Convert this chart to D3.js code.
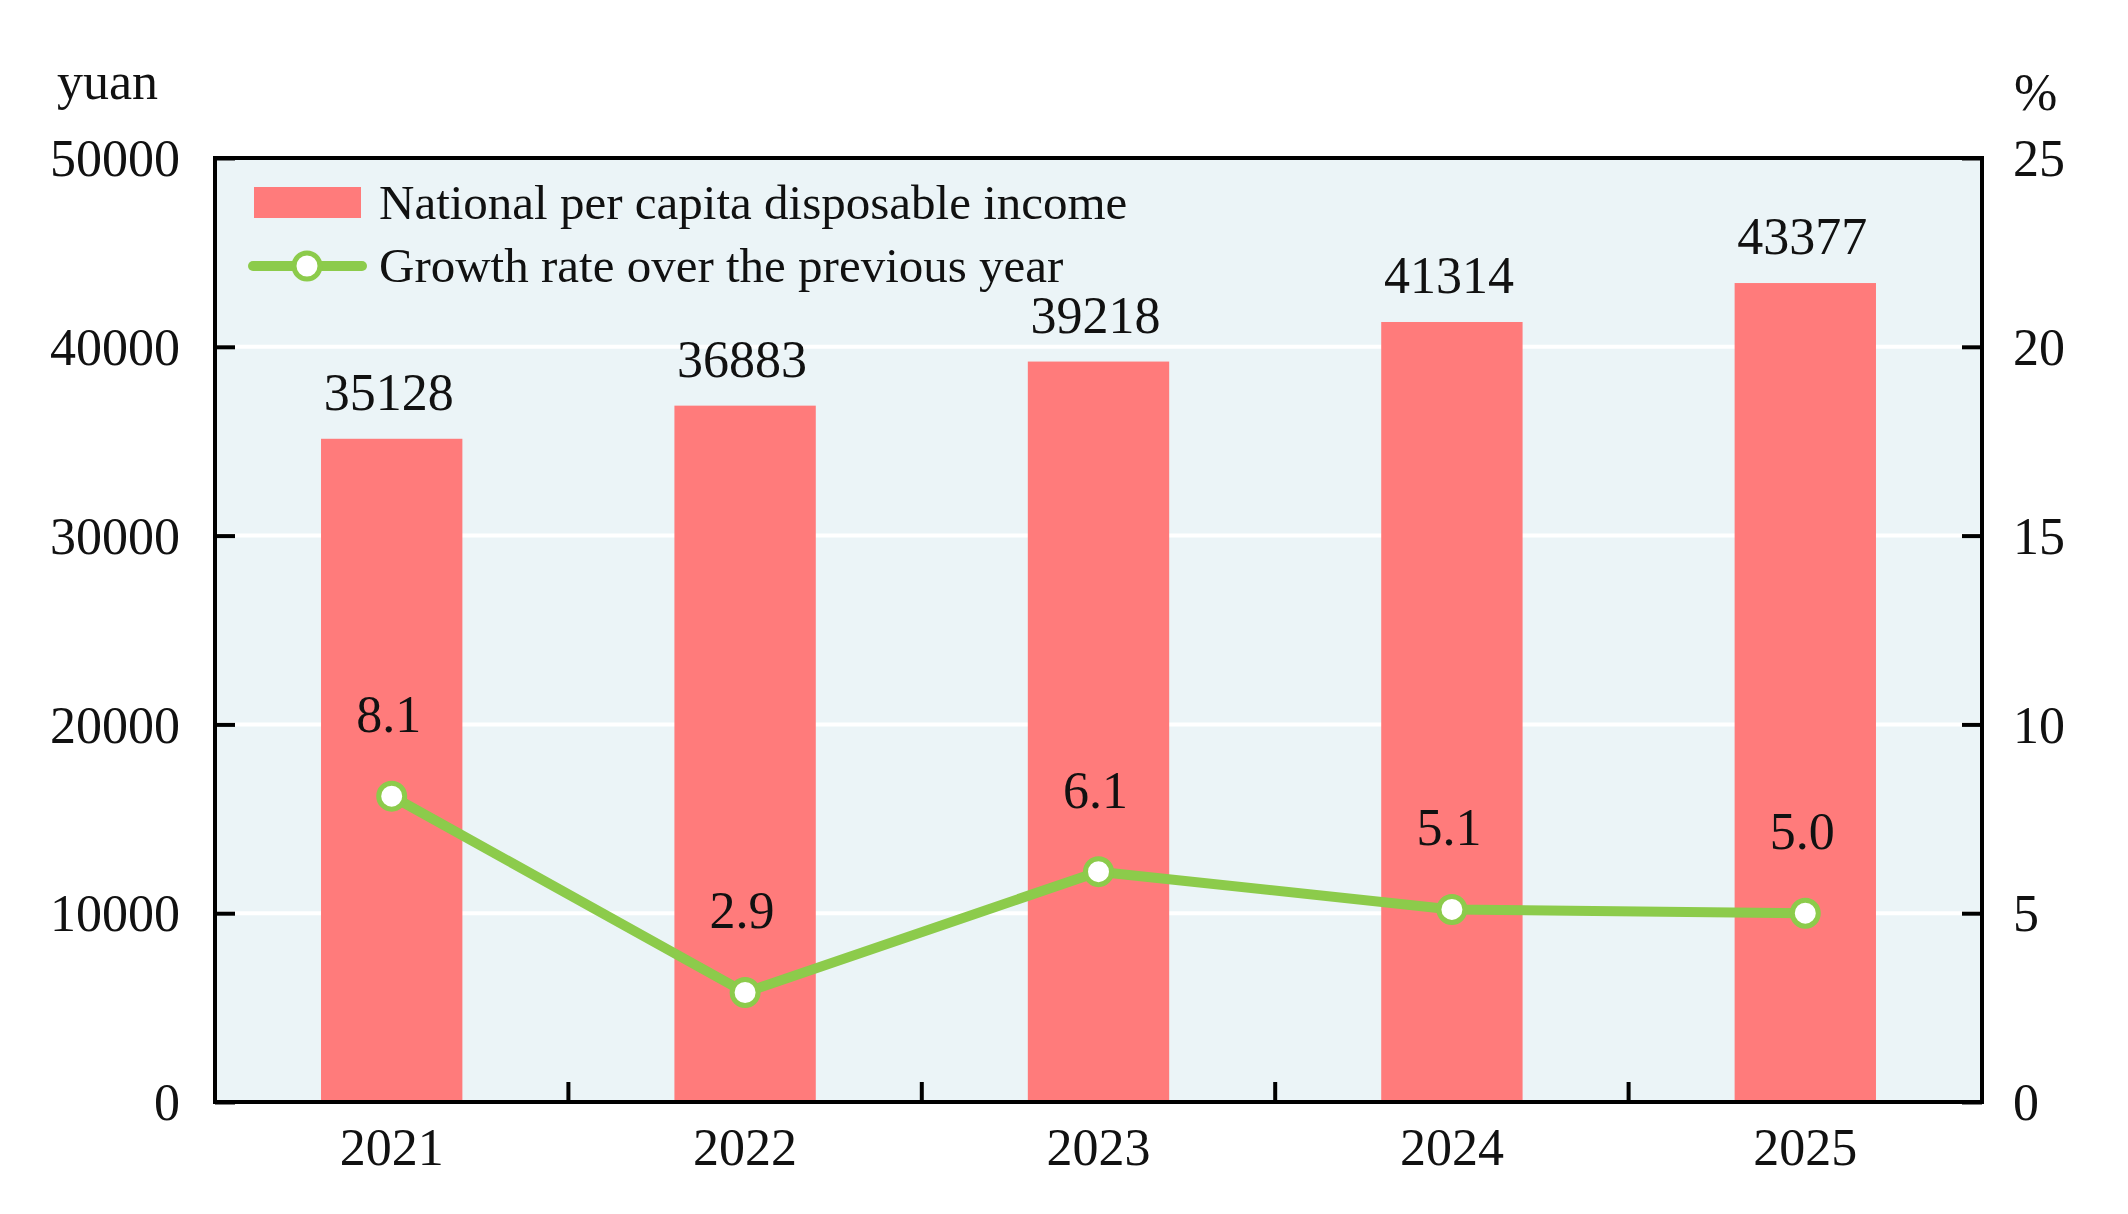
<!DOCTYPE html>
<html>
<head>
<meta charset="utf-8">
<script src="https://cdn.jsdelivr.net/npm/d3@7"></script>
<style>
  html, body { margin: 0; padding: 0; background: #fff; }
  text { font-family: "Liberation Serif", "Times New Roman", serif; fill: #111; }
</style>
</head>
<body>
<svg id="chart" width="2128" height="1214"></svg>
<script>
"use strict";

// data
var years = ["2021", "2022", "2023", "2024", "2025"];
var income = [35128, 36883, 39218, 41314, 43377];
var growth = [8.1, 2.9, 6.1, 5.1, 5.0];
var leftTicks = [0, 10000, 20000, 30000, 40000, 50000];
var rightTicks = [0, 5, 10, 15, 20, 25];
var legendLabels = ["National per capita disposable income", "Growth rate over the previous year"];

var plotLeft = 215, plotRight = 1982, plotTop = 158, plotBottom = 1102;

var barColor = "#ff7b7b";
var lineColor = "#8ccb4b";
var bgColor = "#ebf4f7";
var serif = "Liberation Serif, Times New Roman, serif";

var svg = d3.select("#chart");

var x = d3.scaleBand()
  .domain(years)
  .range([plotLeft, plotRight])
  .paddingInner(0.6)
  .paddingOuter(0.3);

var yL = d3.scaleLinear().domain([0, 50000]).range([plotBottom, plotTop]);
var yR = d3.scaleLinear().domain([0, 25]).range([plotBottom, plotTop]);

// plot background
svg.append("rect")
  .attr("x", plotLeft).attr("y", plotTop)
  .attr("width", plotRight - plotLeft).attr("height", plotBottom - plotTop)
  .attr("fill", bgColor);

// white gridlines
svg.append("g")
  .selectAll("line")
  .data(leftTicks.slice(1, -1))
  .join("line")
  .attr("x1", plotLeft).attr("x2", plotRight)
  .attr("y1", function(d) { return yL(d); })
  .attr("y2", function(d) { return yL(d); })
  .attr("stroke", "#fff")
  .attr("stroke-width", 4);

// bars
svg.append("g")
  .selectAll("rect")
  .data(income)
  .join("rect")
  .attr("x", function(d, i) { return x(years[i]); })
  .attr("y", function(d) { return yL(d); })
  .attr("width", x.bandwidth())
  .attr("height", function(d) { return plotBottom - yL(d); })
  .attr("fill", barColor);

// bar value labels
svg.append("g")
  .selectAll("text")
  .data(income)
  .join("text")
  .attr("x", function(d, i) { return x(years[i]) + x.bandwidth() / 2 - 3; })
  .attr("y", function(d) { return yL(d) - 29; })
  .attr("text-anchor", "middle")
  .attr("font-size", 52)
  .text(function(d) { return d; });

// growth line
var cx = function(d, i) { return x(years[i]) + x.bandwidth() / 2; };
var line = d3.line()
  .x(cx)
  .y(function(d) { return yR(d); });

svg.append("path")
  .datum(growth)
  .attr("d", line)
  .attr("fill", "none")
  .attr("stroke", lineColor)
  .attr("stroke-width", 10)
  .attr("stroke-linejoin", "round");

svg.append("g")
  .selectAll("circle")
  .data(growth)
  .join("circle")
  .attr("cx", cx)
  .attr("cy", function(d) { return yR(d); })
  .attr("r", 13)
  .attr("fill", "#fff")
  .attr("stroke", lineColor)
  .attr("stroke-width", 5);

svg.append("g")
  .selectAll("text")
  .data(growth)
  .join("text")
  .attr("x", function(d, i) { return cx(d, i) - 3; })
  .attr("y", function(d) { return yR(d) - 64; })
  .attr("text-anchor", "middle")
  .attr("font-size", 52)
  .text(function(d) { return d.toFixed(1); });

// axes
var axisL = svg.append("g")
  .attr("transform", "translate(" + plotLeft + ",0)")
  .call(d3.axisLeft(yL).tickValues(leftTicks).tickSizeInner(-20).tickSizeOuter(0).tickPadding(35).tickFormat(d3.format("d")));

var axisR = svg.append("g")
  .attr("transform", "translate(" + plotRight + ",0)")
  .call(d3.axisRight(yR).tickValues(rightTicks).tickSizeInner(-20).tickSizeOuter(0).tickPadding(31).tickFormat(d3.format("d")));

[axisL, axisR].forEach(function(a) {
  a.select(".domain").remove();
  a.selectAll(".tick line").attr("stroke", "#000").attr("stroke-width", 4);
  a.selectAll(".tick text")
    .attr("font-size", 52)
    .attr("font-family", serif)
    .attr("fill", "#111")
    .attr("dy", "0.34em");
});

// bottom axis: labels centred on bars, ticks on category boundaries
var axisB = svg.append("g")
  .attr("transform", "translate(0," + plotBottom + ")")
  .call(d3.axisBottom(x).tickSize(0).tickPadding(26));
axisB.select(".domain").remove();
axisB.selectAll(".tick text")
  .attr("font-size", 52)
  .attr("font-family", serif)
  .attr("fill", "#111");

svg.append("g")
  .selectAll("line")
  .data(years.slice(1))
  .join("line")
  .attr("x1", function(d, i) { return x.range()[0] + (i + 1) * x.step(); })
  .attr("x2", function(d, i) { return x.range()[0] + (i + 1) * x.step(); })
  .attr("y1", plotBottom)
  .attr("y2", plotBottom - 20)
  .attr("stroke", "#000")
  .attr("stroke-width", 4);

// frame
svg.append("rect")
  .attr("x", plotLeft).attr("y", plotTop)
  .attr("width", plotRight - plotLeft).attr("height", plotBottom - plotTop)
  .attr("fill", "none")
  .attr("stroke", "#000")
  .attr("stroke-width", 4);

// unit labels
svg.append("text").attr("x", 57).attr("y", 99).attr("font-size", 52).text("yuan");
svg.append("text").attr("x", 2014).attr("y", 110).attr("font-size", 52).text("%");

// legend
var legend = svg.append("g");
legend.append("rect")
  .attr("x", 254).attr("y", 187)
  .attr("width", 107).attr("height", 31)
  .attr("fill", barColor);
legend.append("text").attr("x", 379).attr("y", 219).attr("font-size", 49).text(legendLabels[0]);

legend.append("line")
  .attr("x1", 253).attr("x2", 362)
  .attr("y1", 266).attr("y2", 266)
  .attr("stroke", lineColor)
  .attr("stroke-width", 10)
  .attr("stroke-linecap", "round");
legend.append("circle")
  .attr("cx", 307).attr("cy", 266).attr("r", 13)
  .attr("fill", "#fff")
  .attr("stroke", lineColor)
  .attr("stroke-width", 5);
legend.append("text").attr("x", 379).attr("y", 282).attr("font-size", 49).text(legendLabels[1]);
</script>
</body>
</html>
